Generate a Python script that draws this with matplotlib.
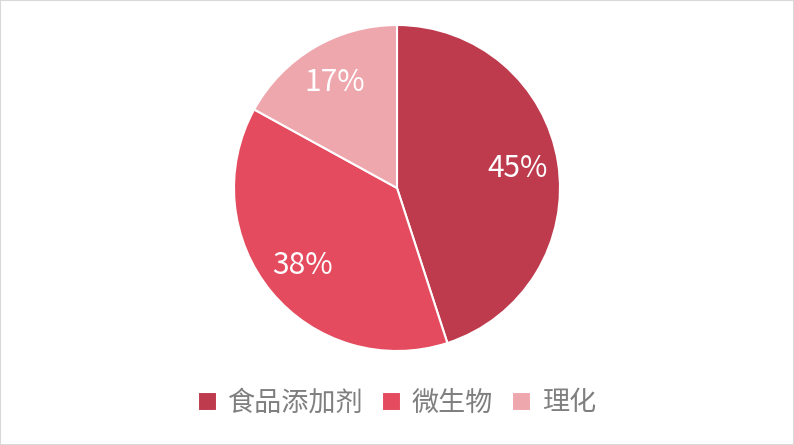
import matplotlib.pyplot as plt
from matplotlib.patches import Rectangle

plt.rcParams['font.family'] = ['Noto Sans CJK SC', 'DejaVu Sans']

# 检测类别占比
categories = ['食品添加剂', '微生物', '理化']
shares = [45, 38, 17]
colors = ['#BE3A4D', '#E54B5F', '#EFA7AE']

fig = plt.figure(figsize=(7.94, 4.45), dpi=100)
W, H = 794, 445
cx, cy, r = 397, 188, 163
ax = fig.add_axes([(cx - r) / W, 1 - (cy + r) / H, 2 * r / W, 2 * r / H])

wedges, texts, autotexts = ax.pie(
    shares, colors=colors, startangle=90, counterclock=False,
    autopct='%1.0f%%', pctdistance=0.75,
    wedgeprops=dict(edgecolor='white', linewidth=1.5),
    textprops=dict(color='white', fontsize=21.5))
ax.set_xlim(-1, 1)
ax.set_ylim(-1, 1)
ax.set_aspect('equal')
ax.axis('off')

leg = fig.legend(wedges, categories, loc='center', bbox_to_anchor=(0.5, 1 - 403 / H),
                 ncol=3, frameon=False, handlelength=0.7, handleheight=0.7,
                 handletextpad=0.4, columnspacing=0.7, fontsize=19.5)
for t in leg.get_texts():
    t.set_color('#7F7F7F')

# 外框
fig.patches.append(Rectangle((0, 0), 1, 1, transform=fig.transFigure, fill=False,
                             edgecolor='#D9D9D9', linewidth=1.5))

fig.savefig('out.png', dpi=100)
